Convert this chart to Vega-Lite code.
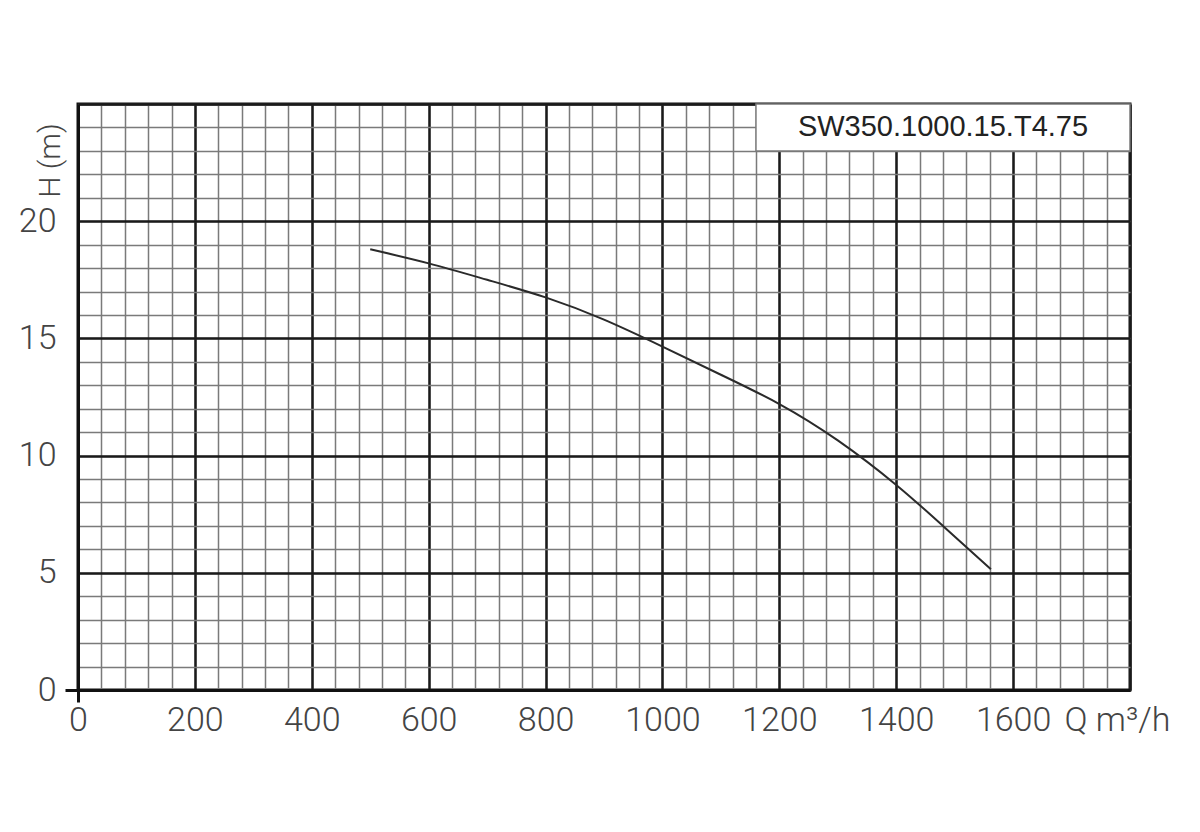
{
  "$schema": "https://vega.github.io/schema/vega-lite/v6.json",
  "width": 1052,
  "height": 586,
  "autosize": {"type": "none"},
  "padding": {"left": 78, "top": 104, "right": 70, "bottom": 142},
  "background": "white",
  "config": {
    "view": {"stroke": "#111", "strokeWidth": 3},
    "axis": {"labelFont": "Roboto", "titleFont": "Roboto", "labelFontWeight": 300, "titleFontWeight": 300}
  },
  "datasets": {
    "curve": [
      {"Q": 500, "H": 18.8},
      {"Q": 600, "H": 18.2},
      {"Q": 700, "H": 17.5},
      {"Q": 800, "H": 16.75},
      {"Q": 900, "H": 15.8},
      {"Q": 1000, "H": 14.65},
      {"Q": 1100, "H": 13.45},
      {"Q": 1200, "H": 12.2},
      {"Q": 1300, "H": 10.65},
      {"Q": 1400, "H": 8.75},
      {"Q": 1480, "H": 7.0},
      {"Q": 1562, "H": 5.15}
    ],
    "box": [
      {"q1": 1160, "q2": 1800, "h1": 23, "h2": 25, "qm": 1480, "hm": 24, "label": "SW350.1000.15.T4.75"}
    ]
  },
  "layer": [
    {
      "data": {"name": "curve"},
      "mark": {"type": "line", "interpolate": "natural", "color": "#2a2a2a", "strokeWidth": 2},
      "encoding": {
        "x": {
          "field": "Q", "type": "quantitative",
          "scale": {"domain": [0, 1800], "nice": false, "zero": false},
          "axis": {
            "orient": "bottom",
            "values": [0,40,80,120,160,200,240,280,320,360,400,440,480,520,560,600,640,680,720,760,800,840,880,920,960,1000,1040,1080,1120,1160,1200,1240,1280,1320,1360,1400,1440,1480,1520,1560,1600,1640,1680,1720,1760,1800],
            "grid": true, "gridColor": "#7a7a7a", "gridWidth": 1.5,
            "labels": false, "ticks": false, "domain": false, "title": null
          }
        },
        "y": {
          "field": "H", "type": "quantitative",
          "scale": {"domain": [0, 25], "nice": false, "zero": false},
          "axis": {
            "orient": "left",
            "values": [0,1,2,3,4,5,6,7,8,9,10,11,12,13,14,15,16,17,18,19,20,21,22,23,24,25],
            "grid": true, "gridColor": "#7a7a7a", "gridWidth": 1.5,
            "labels": false, "ticks": false, "domain": false, "title": null
          }
        }
      }
    },
    {
      "data": {"name": "box"},
      "mark": {"type": "rect", "fill": "white", "stroke": "#7a7a7a", "strokeWidth": 1.5},
      "encoding": {
        "x": {
          "field": "q1", "type": "quantitative",
          "scale": {"domain": [0, 1800], "nice": false, "zero": false},
          "axis": {
            "orient": "bottom",
            "values": [0,200,400,600,800,1000,1200,1400,1600,1800],
            "format": "d",
            "labelExpr": "datum.value == 1800 ? '' : datum.label",
            "grid": true, "gridColor": "#1a1a1a", "gridWidth": 2.5,
            "domain": true, "domainColor": "#111", "domainWidth": 3,
            "ticks": true, "tickSize": 12, "tickWidth": 3, "tickColor": "#111",
            "tickOpacity": {"condition": {"test": "datum.value === 0", "value": 1}, "value": 0},
            "labelFontSize": 34, "labelColor": "#444", "labelBaseline": "alphabetic", "labelPadding": 28,
            "labelFlush": false, "labelOverlap": false,
            "title": "Q m³/h", "titleFontSize": 34, "titleColor": "#444",
            "titleX": 1039, "titleY": 40, "titleAlign": "center", "titleBaseline": "alphabetic", "titleAngle": 0
          }
        },
        "x2": {"field": "q2"},
        "y": {
          "field": "h1", "type": "quantitative",
          "scale": {"domain": [0, 25], "nice": false, "zero": false},
          "axis": {
            "orient": "left",
            "values": [0,5,10,15,20,25],
            "format": "d",
            "labelExpr": "datum.value == 25 ? '' : datum.label",
            "grid": true, "gridColor": "#1a1a1a", "gridWidth": 2.5,
            "domain": true, "domainColor": "#111", "domainWidth": 3,
            "ticks": true, "tickSize": 13, "tickWidth": 3, "tickColor": "#111",
            "tickOpacity": {"condition": {"test": "datum.value === 0", "value": 1}, "value": 0},
            "labelFontSize": 34, "labelColor": "#444", "labelBaseline": "middle", "labelPadding": 9,
            "labelFlush": false, "labelOverlap": false,
            "title": "H (m)", "titleFontSize": 30, "titleColor": "#444",
            "titleX": -28, "titleY": 56, "titleAlign": "center", "titleBaseline": "middle", "titleAngle": 270
          }
        },
        "y2": {"field": "h2"}
      }
    },
    {
      "data": {"name": "box"},
      "mark": {"type": "text", "font": "Liberation Sans", "fontSize": 29, "color": "#222", "align": "center", "baseline": "middle"},
      "encoding": {
        "x": {"field": "qm", "type": "quantitative", "scale": {"domain": [0, 1800], "nice": false, "zero": false}, "axis": null},
        "y": {"field": "hm", "type": "quantitative", "scale": {"domain": [0, 25], "nice": false, "zero": false}, "axis": null},
        "text": {"field": "label"}
      }
    }
  ],
  "resolve": {"axis": {"x": "independent", "y": "independent"}}
}
